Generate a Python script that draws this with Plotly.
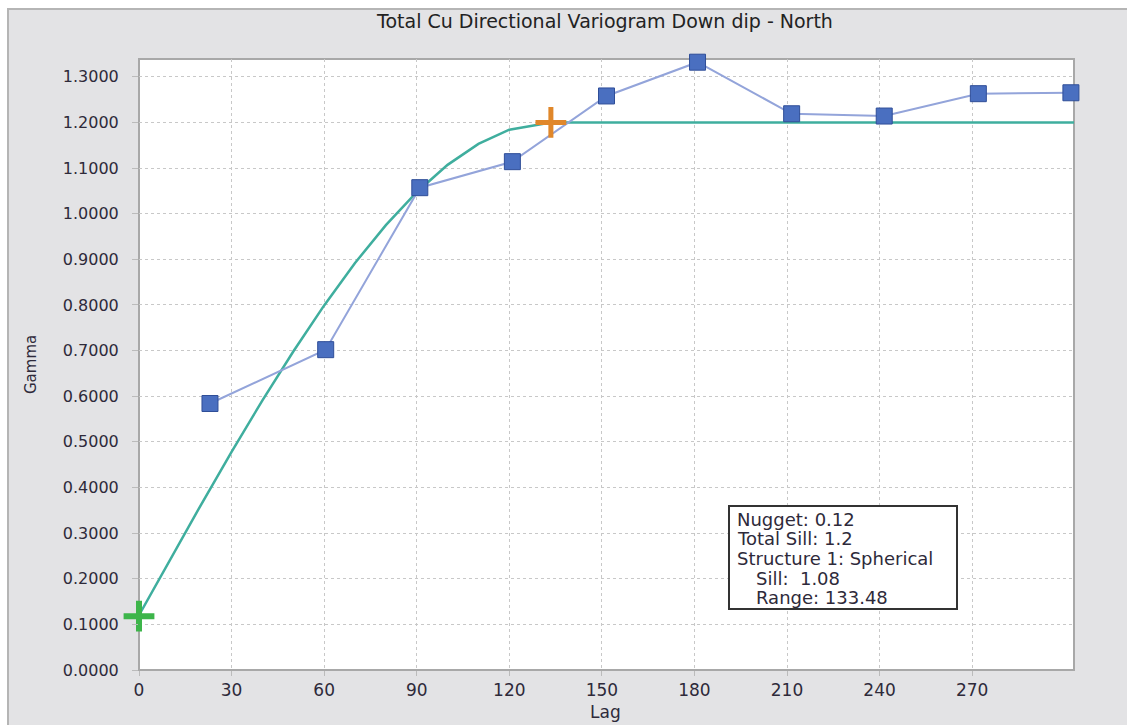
import plotly.graph_objects as go

# Experimental variogram points
lag_exp = [23, 60.5, 91, 121, 151.5, 181, 211.5, 241.5, 272, 302]
gamma_exp = [0.584, 0.702, 1.057, 1.114, 1.258, 1.332, 1.219, 1.214, 1.263, 1.265]

# Model curve
lag_model = [0, 10, 20, 30, 40, 50, 60, 70, 80, 90, 100, 110, 120, 133.48, 303]
gamma_model = [0.12, 0.241, 0.361, 0.478, 0.591, 0.698, 0.799, 0.892, 0.975, 1.047,
               1.107, 1.153, 1.184, 1.2, 1.2]

nugget_pt = (0, 0.118)
range_pt = (133.48, 1.2)

x_ticks = [0, 30, 60, 90, 120, 150, 180, 210, 240, 270]
y_ticks = [0.0, 0.1, 0.2, 0.3, 0.4, 0.5, 0.6, 0.7, 0.8, 0.9, 1.0, 1.1, 1.2, 1.3]

info_lines = ["Nugget: 0.12", "Total Sill: 1.2", "Structure 1: Spherical",
              "Sill:\u00a0\u00a01.08", "Range: 133.48"]
info_indent = [False, False, False, True, True]

W, H = 1127, 725
L, R, T, B = 139, 53, 59, 55
pw, ph = W - L - R, H - T - B

def px2paper_x(px):
    return (px - L) / pw

def px2paper_y(py):
    return (H - B - py) / ph

FONT = "DejaVu Sans, Verdana, sans-serif"
TXT = "#2E2A3A"

fig = go.Figure()
fig.add_trace(go.Scatter(x=lag_model, y=gamma_model, mode="lines",
                         line=dict(color="#3FAE9E", width=2.5), cliponaxis=False,
                         hoverinfo="skip"))
fig.add_trace(go.Scatter(x=lag_exp, y=gamma_exp, mode="lines+markers",
                         line=dict(color="#93A4DA", width=2),
                         marker=dict(symbol="square", size=16, color="#4A6FC0",
                                     line=dict(color="#2F4E98", width=1)),
                         cliponaxis=False))
fig.add_trace(go.Scatter(x=[nugget_pt[0]], y=[nugget_pt[1]], mode="markers",
                         marker=dict(symbol="cross-thin", size=22,
                                     line=dict(color="#3DB54A", width=6)),
                         cliponaxis=False))
fig.add_trace(go.Scatter(x=[range_pt[0]], y=[range_pt[1]], mode="markers",
                         marker=dict(symbol="cross-thin", size=22,
                                     line=dict(color="#E0872A", width=5)),
                         cliponaxis=False))

shapes = [
    dict(type="rect", xref="paper", yref="paper", layer="below",
         x0=px2paper_x(8), x1=px2paper_x(1130), y0=px2paper_y(730), y1=px2paper_y(9),
         fillcolor="#E3E3E5", line=dict(color="#B5B5B5", width=2)),
    dict(type="rect", xref="paper", yref="paper", layer="below",
         x0=0, x1=1, y0=0, y1=1, fillcolor="white",
         line=dict(color="#A8A8A8", width=2)),
    dict(type="rect", xref="paper", yref="paper", layer="above",
         x0=px2paper_x(729), x1=px2paper_x(957), y0=px2paper_y(609), y1=px2paper_y(506),
         fillcolor="white", line=dict(color="#333333", width=2)),
]

line_y = [519, 538, 558, 578, 597]
annotations = []
for txt, ind, yy in zip(info_lines, info_indent, line_y):
    annotations.append(dict(text=txt, x=px2paper_x(754 if ind else 735), y=px2paper_y(yy),
                            xref="paper", yref="paper", xanchor="left", yanchor="middle",
                            showarrow=False,
                            font=dict(family=FONT, size=18, color=TXT)))
annotations += [
    dict(text="Gamma", textangle=-90, x=px2paper_x(31), y=px2paper_y(365),
         xref="paper", yref="paper", xanchor="center", yanchor="middle", showarrow=False,
         font=dict(family=FONT, size=15, color=TXT)),
    dict(text="Lag", x=px2paper_x(605), y=px2paper_y(712),
         xref="paper", yref="paper", xanchor="center", yanchor="middle", showarrow=False,
         font=dict(family=FONT, size=17, color=TXT)),
]

fig.update_layout(
    width=W, height=H,
    margin=dict(l=L, r=R, t=T, b=B),
    paper_bgcolor="white", plot_bgcolor="white",
    showlegend=False,
    title=dict(text="Total Cu Directional Variogram Down dip - North",
               x=605 / W, xanchor="center", y=1 - 21 / H, yanchor="middle",
               font=dict(family=FONT, size=19, color="#222")),
    shapes=shapes, annotations=annotations,
    xaxis=dict(range=[0, 303], tickvals=x_ticks, showgrid=True,
               gridcolor="#C8C8C8", griddash="dot", gridwidth=1,
               zeroline=False, showline=False, ticks="outside", ticklen=5,
               tickcolor="#BBBBBB", tickfont=dict(family=FONT, size=17, color=TXT)),
    yaxis=dict(range=[0, 1.339], tickvals=y_ticks, tickformat=".4f", showgrid=True,
               gridcolor="#C8C8C8", griddash="dot", gridwidth=1,
               zeroline=False, showline=False, ticks="outside", ticklen=6,
               ticklabelstandoff=10,
               tickcolor="#BBBBBB", tickfont=dict(family=FONT, size=16, color=TXT)),
)

fig.write_html("out.html")
